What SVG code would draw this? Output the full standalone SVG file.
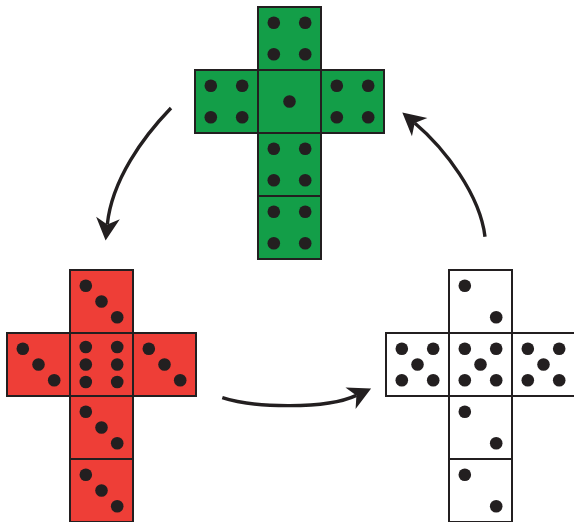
<svg xmlns="http://www.w3.org/2000/svg" xmlns:xlink="http://www.w3.org/1999/xlink" width="574" height="522" viewBox="0 0 574 522">
<style>
.sq{stroke:#231f20;stroke-width:2}
.g{fill:#139e48}
.r{fill:#ee3e37}
.w{fill:#ffffff}
.dot{fill:#231f20}
.arrow{fill:none;stroke:#231f20;stroke-width:3.4}
</style>
<defs>
<g id="f1" class="dot"><circle cx="31.5" cy="31.5" r="6.3"/></g>
<g id="f2" class="dot"><circle cx="15.8" cy="15.8" r="6.3"/><circle cx="47.2" cy="47.2" r="6.3"/></g>
<g id="f3" class="dot"><circle cx="15.8" cy="15.8" r="6.3"/><circle cx="31.5" cy="31.5" r="6.3"/><circle cx="47.2" cy="47.2" r="6.3"/></g>
<g id="f4" class="dot"><circle cx="15.8" cy="15.8" r="6.3"/><circle cx="47.2" cy="15.8" r="6.3"/><circle cx="15.8" cy="47.2" r="6.3"/><circle cx="47.2" cy="47.2" r="6.3"/></g>
<g id="f5" class="dot"><circle cx="15.8" cy="15.8" r="6.3"/><circle cx="47.2" cy="15.8" r="6.3"/><circle cx="31.5" cy="31.5" r="6.3"/><circle cx="15.8" cy="47.2" r="6.3"/><circle cx="47.2" cy="47.2" r="6.3"/></g>
<g id="f6" class="dot"><circle cx="15.8" cy="14" r="6.3"/><circle cx="47.2" cy="14" r="6.3"/><circle cx="15.8" cy="31.5" r="6.3"/><circle cx="47.2" cy="31.5" r="6.3"/><circle cx="15.8" cy="49" r="6.3"/><circle cx="47.2" cy="49" r="6.3"/></g>
<marker id="ah" markerUnits="userSpaceOnUse" markerWidth="26" markerHeight="26" viewBox="-7 -12 24 24" refX="0" refY="0" orient="auto">
<path d="M15,0 L-6,-11 L0,0 L-6,11 Z" fill="#231f20"/>
</marker>
</defs>

<g id="green-net">
<g transform="translate(258,7)"><rect class="sq g" width="63" height="63"/><use xlink:href="#f4"/></g>
<g transform="translate(195,70)"><rect class="sq g" width="63" height="63"/><use xlink:href="#f4"/></g>
<g transform="translate(258,70)"><rect class="sq g" width="63" height="63"/><use xlink:href="#f1"/></g>
<g transform="translate(321,70)"><rect class="sq g" width="63" height="63"/><use xlink:href="#f4"/></g>
<g transform="translate(258,133)"><rect class="sq g" width="63" height="63"/><use xlink:href="#f4"/></g>
<g transform="translate(258,196)"><rect class="sq g" width="63" height="63"/><use xlink:href="#f4"/></g>
</g>

<g id="red-net">
<g transform="translate(70,270)"><rect class="sq r" width="63" height="63"/><use xlink:href="#f3"/></g>
<g transform="translate(7,333)"><rect class="sq r" width="63" height="63"/><use xlink:href="#f3"/></g>
<g transform="translate(70,333)"><rect class="sq r" width="63" height="63"/><use xlink:href="#f6"/></g>
<g transform="translate(133,333)"><rect class="sq r" width="63" height="63"/><use xlink:href="#f3"/></g>
<g transform="translate(70,396)"><rect class="sq r" width="63" height="63"/><use xlink:href="#f3"/></g>
<g transform="translate(70,459)"><rect class="sq r" width="63" height="63"/><use xlink:href="#f3"/></g>
</g>

<g id="white-net">
<g transform="translate(449,270)"><rect class="sq w" width="63" height="63"/><use xlink:href="#f2"/></g>
<g transform="translate(386,333)"><rect class="sq w" width="63" height="63"/><use xlink:href="#f5"/></g>
<g transform="translate(449,333)"><rect class="sq w" width="63" height="63"/><use xlink:href="#f5"/></g>
<g transform="translate(512,333)"><rect class="sq w" width="63" height="63"/><use xlink:href="#f5"/></g>
<g transform="translate(449,396)"><rect class="sq w" width="63" height="63"/><use xlink:href="#f2"/></g>
<g transform="translate(449,459)"><rect class="sq w" width="63" height="63"/><use xlink:href="#f2"/></g>
</g>

<g id="connectors">
<path class="arrow" marker-end="url(#ah)" d="M171,108 C143,137 112,179.7 107.3,224.4"/>
<path class="arrow" marker-end="url(#ah)" d="M485,236.7 C480,195 445.2,148.9 414.7,123"/>
<path class="arrow" marker-end="url(#ah)" d="M222.3,397.7 C250,407 324.7,410.3 356.4,395.4"/>
</g>
</svg>
